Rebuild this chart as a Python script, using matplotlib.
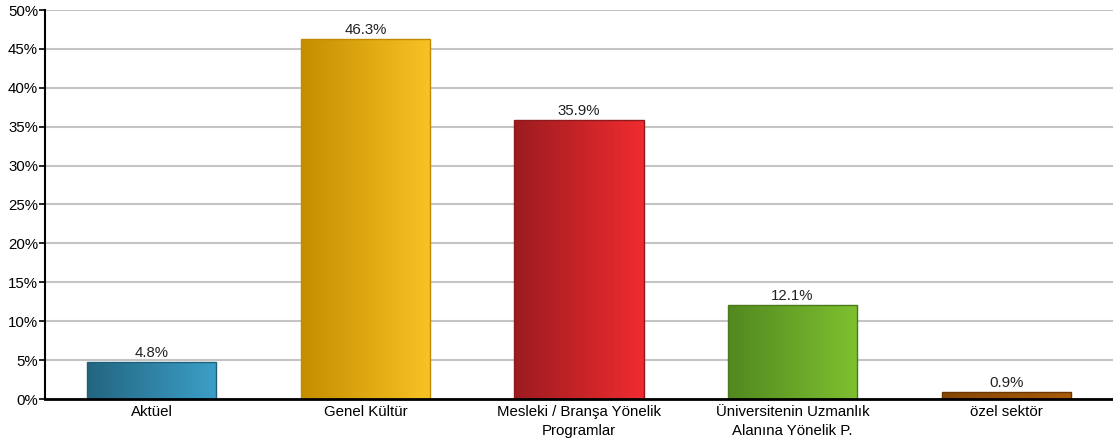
import numpy as np
import matplotlib
matplotlib.use("Agg")
import matplotlib.pyplot as plt
from matplotlib.colors import LinearSegmentedColormap

plt.rcParams['font.family'] = ['Liberation Sans', 'DejaVu Sans']

categories = ["Aktüel", "Genel Kültür", "Mesleki / Branşa Yönelik\nProgramlar",
              "Üniversitenin Uzmanlık\nAlanına Yönelik P.", "özel sektör"]
values = [4.8, 46.3, 35.9, 12.1, 0.9]
labels = ["4.8%", "46.3%", "35.9%", "12.1%", "0.9%"]
yticks = [0, 5, 10, 15, 20, 25, 30, 35, 40, 45, 50]

# left / right gradient colours and edge colour for each bar
grad = [("#236580", "#3c9fc8", "#1f5f78"),
        ("#c48e00", "#f9c224", "#c08a00"),
        ("#9c1b1f", "#f02c30", "#8e1a1d"),
        ("#528820", "#7ec130", "#4a7a1c"),
        ("#864600", "#a85c08", "#6a3800")]

fig = plt.figure(figsize=(11.13, 4.48), dpi=100)
ax = fig.add_axes([45/1113, 49/448, 1068/1113, 389/448])

fs = 10.8
ax.set_xlim(-0.5, 4.5)
ax.set_ylim(0, 50)
ax.set_yticks(yticks)
ax.set_yticklabels([f"{t}%" for t in yticks], fontsize=fs)
ax.yaxis.grid(True, color="#c4c4c4", linewidth=1.5)
ax.set_axisbelow(True)
ax.set_xticks(range(len(categories)))
ax.set_xticklabels(categories, fontsize=fs, linespacing=1.45)
ax.tick_params(axis='x', length=0, pad=4)
ax.tick_params(axis='y', length=4, width=1.2, pad=1, direction='out')
for s in ["top", "right"]:
    ax.spines[s].set_visible(False)
ax.spines["left"].set_linewidth(1.5)
ax.spines["bottom"].set_linewidth(2)
ax.spines["bottom"].set_zorder(5)

w = 0.605
bars = ax.bar(range(len(values)), values, width=w, color="none", zorder=3)
gx = np.linspace(0, 1, 256).reshape(1, -1)
for b, (c1, c2, ec) in zip(bars, grad):
    x0 = b.get_x()
    h = b.get_height()
    cmap = LinearSegmentedColormap.from_list("g", [c1, c2])
    im = ax.imshow(gx, cmap=cmap, aspect='auto', extent=[x0, x0 + w, 0, h],
                   zorder=3, interpolation='bilinear')
    im.set_clip_path(b)
    b.set_edgecolor(ec)
    b.set_linewidth(1)
    b.set_zorder(4)

for i, (v, t) in enumerate(zip(values, labels)):
    ax.text(i, v + 0.2, t, ha='center', va='bottom', fontsize=fs, color="#222222")

ax.set_xlim(-0.5, 4.5)
ax.set_ylim(0, 50)

fig.savefig("out.png", dpi=100)
